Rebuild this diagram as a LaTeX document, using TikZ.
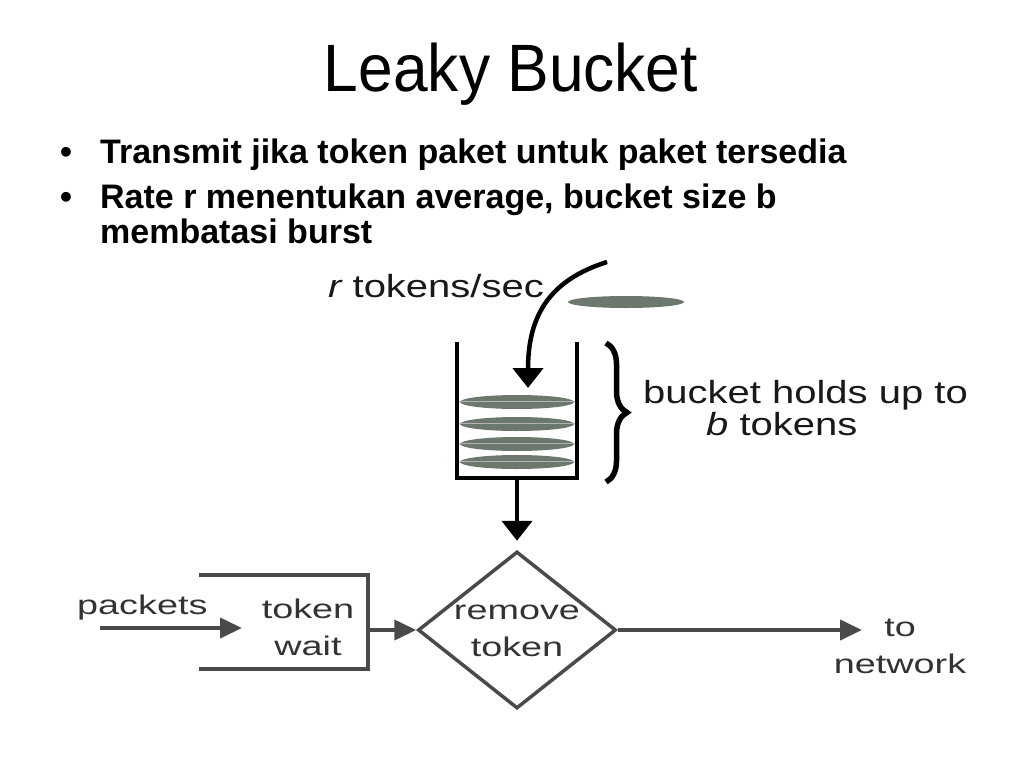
\documentclass[tikz,border=0pt]{standalone}
\usepackage{fontspec}
\setmainfont{Liberation Sans}
\newfontfamily\titlefont[FakeStretch=0.93]{Liberation Sans}
\newfontfamily\upfont[FakeStretch=1.25]{Liberation Sans}
\newfontfamily\lowfont[FakeStretch=1.4]{Liberation Sans}
\usetikzlibrary{arrows.meta,shapes.geometric,decorations.pathreplacing}
\definecolor{tokcol}{RGB}{108,120,110}
\definecolor{linecol}{RGB}{74,74,74}

\begin{document}
\begin{tikzpicture}[x=1pt,y=-1pt,
    uptext/.style={font=\upfont\fontsize{32}{32}\selectfont,inner sep=0pt,anchor=base west,text=black!90},
    lowtext/.style={font=\lowfont\fontsize{27}{37}\selectfont,inner sep=0pt,align=center,text=black!80},
    bullettext/.style={font=\bfseries\fontsize{34}{36}\selectfont,inner sep=0pt,anchor=base west},
    lowline/.style={draw=linecol,line width=4pt},
    lowarrow/.style={linecol,line width=4pt,-{Triangle[width=20pt,length=22pt]}},
    bigarrow/.style={line width=4.5pt,-{Triangle[width=30pt,length=20pt]}}]
  \useasboundingbox[fill=white] (0,0) rectangle (1024,768);
  % title and bullets
  \node[font=\titlefont\fontsize{67}{70}\selectfont,inner sep=0pt,anchor=base] (title) at (511,91) {Leaky Bucket};
  \node[bullettext] (dot1) at (60,163) {\textbullet};
  \node[bullettext] (line1) at (100,163) {Transmit jika token paket untuk paket tersedia};
  \node[bullettext] (dot2) at (60,208) {\textbullet};
  \node[bullettext] (line2) at (100,208) {Rate r menentukan average, bucket size b};
  \node[bullettext] (line3) at (100,243) {membatasi burst};
  % bucket
  \draw[line width=4pt] (457,342) -- (457,478) -- (577,478) -- (577,342);
  \foreach \y in {402,424,444,462}{
    \fill[tokcol] (517,\y) ellipse (57 and 7);
    \draw[gray!60,line width=1pt] (459,\y-1) -- (575,\y-1);
  }
  \fill[tokcol] (626,302) ellipse (58 and 6);
  \coordinate (src) at (607,262);
  \coordinate (drop) at (528,388);
  \coordinate (bottom) at (517,478);
  \draw[bigarrow] (src) .. controls (550,280) and (528,315) .. (drop);
  \node[uptext] (rate) at (328,297) {{\itshape r} tokens/sec};
  \draw[line width=5.5pt,decorate,decoration={brace,amplitude=21pt}] (606,343) -- (606,482);
  \node[uptext] (holds) at (643,403) {bucket holds up to};
  \node[uptext] (btok) at (706,435) {{\itshape b} tokens};
  % packet path
  \node[draw=linecol,line width=3.5pt,diamond,minimum width=198pt,minimum height=157pt,inner sep=0pt] (rm) at (517,630) {};
  \node[lowtext] (rmtext) at (517,631) {remove\\token};
  \draw[bigarrow,shorten >=9pt] (bottom) -- (rm.north);
  \draw[lowline] (199,575) -- (368,575) -- (368,669) -- (199,669);
  \coordinate (boxout) at (368,630);
  \coordinate (waitin) at (242,628);
  \coordinate (pin) at (100,628);
  \coordinate (netin) at (862,630);
  \node[lowtext] (wait) at (308,627) {token\\wait};
  \node[lowtext,anchor=base west] (pk) at (77,614) {packets};
  \draw[lowarrow] (pin) -- (waitin);
  \draw[lowarrow] (boxout) -- (rm.west);
  \draw[lowarrow] (rm.east) -- (netin);
  \node[lowtext] (net) at (900,646) {to\\network};
\end{tikzpicture}
\end{document}
